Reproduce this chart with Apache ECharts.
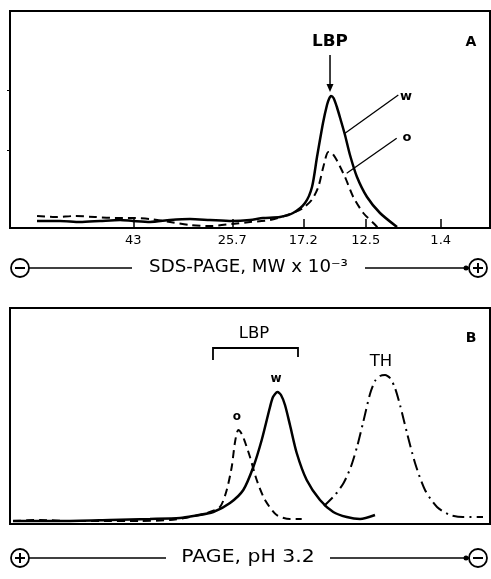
<!DOCTYPE html>
<html><head><meta charset="utf-8">
<script src="https://cdn.jsdelivr.net/npm/echarts@6/dist/echarts.min.js"></script>
<style>html,body{margin:0;padding:0;background:#fff}#c{width:491px;height:579px}</style>
</head><body><div id="c"></div>
<script>
// ---- Panel A: SDS-PAGE (x = relative migration %, y = absorbance, arbitrary units)
const mwTickPos = [25.69, 46.31, 61.1, 74.1, 89.73];
const mwTickLabels = ['43', '25.7', '17.2', '12.5', '1.4'];
const sdsW = [[5.63,7],[10.42,7],[14.58,6],[18.75,7],[22.92,8],[25.63,7],[29.17,6],[33.33,8],[37.5,9],[41.67,8],[46.25,7],[50,8],[52.71,10],[56.25,11],[58.96,15],[61.46,25],[62.92,41],[63.96,71],[65.21,105],[66.04,123],[66.46,129],[66.88,132],[67.4,130],[68.1,121],[68.9,108],[69.79,93],[70.83,73],[72.29,51],[74.38,31],[77.08,15],[80.63,1]];
const sdsO = [[5.63,12],[9.38,11],[13.54,12],[17.71,11],[21.88,10],[25.63,10],[29.17,9],[33.33,6],[37.5,3],[41.67,2],[46.25,4],[50,6],[54.17,8],[58.33,14],[61.04,20],[62.85,28],[64.23,41],[65.27,61],[66.31,76],[67.08,75],[68.06,68],[69.79,51],[71.52,31],[73.6,15],[75.69,5],[76.67,0]];
// ---- Panel B: PAGE pH 3.2
const pageW = [[0.63,3],[10.42,3],[20.83,4],[29.17,5],[35.42,6],[38.19,8],[42.35,12],[45.83,21],[48.6,34],[50.69,57],[52.44,84],[54.17,117],[54.79,127],[55.73,132],[56.46,129],[57.29,119],[58.33,99],[59.73,71],[61.81,44],[64.58,24],[67.35,12],[70.15,7],[72.92,5],[76.04,9]];
const pageO = [[0.63,3],[6.25,4],[12.5,3],[18.75,3],[27.08,3],[33.33,4],[37.5,7],[40.98,11],[43.75,17],[45.15,34],[46.19,57],[46.88,82],[47.56,94],[48.3,90],[48.96,82],[50,67],[51.4,44],[53.13,24],[55.56,9],[58.33,5],[60.77,5]];
const pageTH = [[65.42,18],[67.71,29],[69.5,41],[71,57],[72.29,77],[73.54,101],[75,130],[76.04,143],[77.08,148],[78.13,149],[79.17,146],[80.21,136],[81.25,119],[82.71,91],[84.38,61],[86.46,34],[88.96,17],[91.67,9],[94.38,7],[98.54,7]];

const FONT = 'DejaVu Sans';
const chart = echarts.init(document.getElementById('c'));
const line = (data, xi, type, width) => ({
  type: 'line', data, xAxisIndex: xi, yAxisIndex: xi, showSymbol: false, smooth: 0.25,
  lineStyle: { color: '#000', width, type }, silent: true, animation: false
});
chart.setOption({
  animation: false,
  backgroundColor: '#fff',
  grid: [
    { left: 10, top: 11, width: 480, height: 217, show: true, borderColor: '#000', borderWidth: 2 },
    { left: 10, top: 308, width: 480, height: 216, show: true, borderColor: '#000', borderWidth: 2 }
  ],
  xAxis: [
    { type: 'value', gridIndex: 0, min: 0, max: 100, axisLine: { show: false }, splitLine: { show: false },
      axisTick: { show: true, inside: true, length: 9, customValues: mwTickPos, lineStyle: { color: '#000', width: 1.5 } },
      axisLabel: { show: true, customValues: mwTickPos, margin: 6, fontFamily: FONT, fontSize: 13, color: '#000',
        formatter: (v) => { let i = 0, best = 1e9; mwTickPos.forEach((p, k) => { if (Math.abs(p - v) < best) { best = Math.abs(p - v); i = k; } }); return mwTickLabels[i]; } } },
    { type: 'value', gridIndex: 1, min: 0, max: 100, axisLine: { show: false }, splitLine: { show: false }, axisTick: { show: false }, axisLabel: { show: false } }
  ],
  yAxis: [
    { type: 'value', gridIndex: 0, min: 0, max: 217, axisLine: { show: false }, splitLine: { show: false }, axisLabel: { show: false },
      axisTick: { show: true, length: 3, customValues: [78, 138], lineStyle: { color: '#000', width: 1 } } },
    { type: 'value', gridIndex: 1, min: 0, max: 216, axisLine: { show: false }, splitLine: { show: false }, axisLabel: { show: false }, axisTick: { show: false } }
  ],
  series: [
    line(sdsW, 0, 'solid', 2.5),
    line(sdsO, 0, [8, 5], 2),
    line(pageW, 1, 'solid', 2.5),
    line(pageO, 1, [8, 5], 2),
    line(pageTH, 1, [12, 5, 2, 5], 2)
  ]
});

const P = (g, x, y) => chart.convertToPixel({ gridIndex: g }, [x, y]);
const txt = (g, x, y, s, size, weight, sx) => { const p = P(g, x, y); return { type: 'text', x: p[0], y: p[1], scaleX: sx || 1, style: { text: s, fill: '#000', font: (weight || 'normal') + ' ' + size + 'px "' + FONT + '"', align: 'center', verticalAlign: 'middle' } }; };
const seg = (g, a, b, w) => { const p = P(g, a[0], a[1]), q = P(g, b[0], b[1]); return { type: 'line', shape: { x1: p[0], y1: p[1], x2: q[0], y2: q[1] }, style: { stroke: '#000', lineWidth: w } }; };
const poly = (g, pts, w) => ({ type: 'polyline', shape: { points: pts.map(d => P(g, d[0], d[1])) }, style: { stroke: '#000', lineWidth: w, fill: null } });

const arrTip = P(0, 66.67, 136);
const gr = [
  // Panel A annotations
  txt(0, 66.67, 186, 'LBP', 16, 'bold', 1.05),
  seg(0, [66.67, 173], [66.67, 140], 1.5),
  { type: 'polygon', shape: { points: [[arrTip[0] - 3.5, arrTip[1] - 8], [arrTip[0] + 3.5, arrTip[1] - 8], [arrTip[0], arrTip[1]]] }, style: { fill: '#000' } },
  txt(0, 96.0, 186, 'A', 14, 'bold'),
  txt(0, 82.5, 131, 'w', 13, 'bold'),
  seg(0, [69.79, 94.7], [80.9, 133], 1.3),
  txt(0, 82.7, 90, 'o', 13, 'bold'),
  seg(0, [70.15, 54.7], [80.56, 89.7], 1.3),
  // Panel B annotations
  txt(1, 50.83, 190, 'LBP', 15, 'normal', 1.1),
  poly(1, [[42.29, 164], [42.29, 176], [60, 176], [60, 167]], 1.8),
  txt(1, 55.42, 145, 'w', 12, 'bold'),
  txt(1, 47.29, 107, 'o', 12, 'bold'),
  txt(1, 77.29, 162, 'TH', 15, 'normal', 1.1),
  txt(1, 96.04, 186, 'B', 14, 'bold')
];
// Direction rows (electrode signs)
function electrodeRow(y, leftSign, rightSign, label, sx, l1, l2, r1, r2) {
  const out = [];
  const circ = (cx, sign) => {
    out.push({ type: 'circle', shape: { cx, cy: y, r: 9 }, style: { stroke: '#000', lineWidth: 1.8, fill: '#fff' } });
    out.push({ type: 'line', shape: { x1: cx - 5, y1: y, x2: cx + 5, y2: y }, style: { stroke: '#000', lineWidth: 2 } });
    if (sign === '+') out.push({ type: 'line', shape: { x1: cx, y1: y - 5, x2: cx, y2: y + 5 }, style: { stroke: '#000', lineWidth: 2 } });
  };
  out.push({ type: 'line', shape: { x1: l1, y1: y, x2: l2, y2: y }, style: { stroke: '#000', lineWidth: 1.5 } });
  out.push({ type: 'line', shape: { x1: r1, y1: y, x2: r2, y2: y }, style: { stroke: '#000', lineWidth: 1.5 } });
  out.push({ type: 'circle', shape: { cx: r2 - 3, cy: y, r: 2.5 }, style: { fill: '#000' } });
  circ(20, leftSign); circ(478, rightSign);
  out.push({ type: 'text', x: (l2 + r1) / 2, y, scaleX: sx, style: { text: label, fill: '#000', font: 'normal 17px "' + FONT + '"', align: 'center', verticalAlign: 'middle' } });
  return out;
}
gr.push(...electrodeRow(268, '-', '+', 'SDS-PAGE, MW x 10⁻³', 1.07, 29, 132, 365, 469));
gr.push(...electrodeRow(558, '+', '-', 'PAGE, pH 3.2', 1.2, 29, 166, 330, 469));
chart.setOption({ graphic: gr });
</script>
</body></html>
